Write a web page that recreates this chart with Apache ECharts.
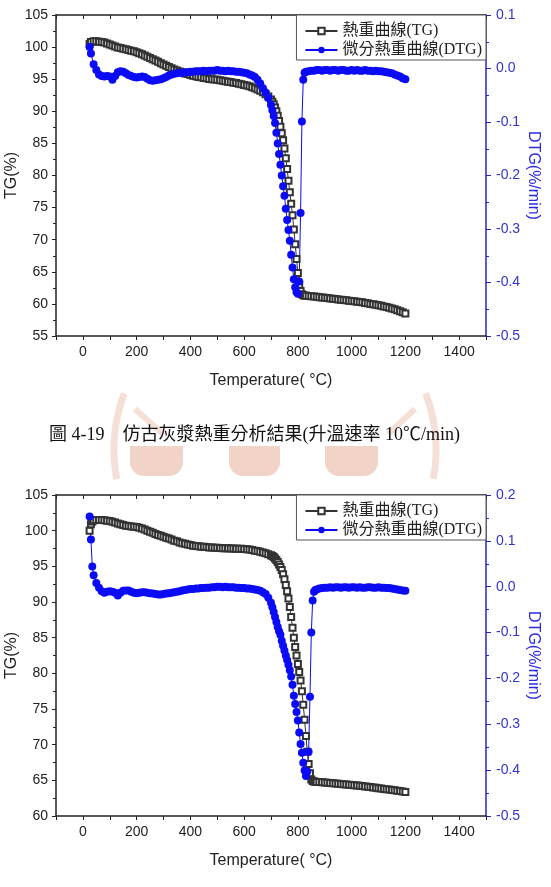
<!DOCTYPE html>
<html lang="zh-Hant">
<head>
    <meta charset="UTF-8">
    <title>TG / DTG</title>
    <script src="https://cdn.jsdelivr.net/npm/echarts@6.0.0/dist/echarts.min.js"></script>
    <style>
        *{
            margin: 0;
            padding: 0;
        }
        html,body{
            width: 100%;
            height: 100%;
            background: #fff;
        }
        .container{
            width: 551px;
            height: 887px;
        }
    </style>
</head>
<body>
<div class="container"></div>
<script>
    // temperature grid, chart 1 (°C)
    let temp1 = [25, 30,
        40, 50, 60, 70, 80, 90, 100,
        110, 120, 130, 140, 150, 160, 170, 180, 190, 200,
        210, 220, 230, 240, 250, 260, 270, 280, 290, 300,
        310, 320, 330, 340, 350, 360, 370, 380, 390, 400,
        410, 420, 430, 440, 450, 460, 470, 480, 490, 500,
        510, 520, 530, 540, 550, 560, 570, 580, 590, 600,
        610, 620, 630, 640, 650, 660, 670, 680, 690, 700,
        705, 710, 715, 720, 725, 730, 735, 740, 745, 750,
        755, 760, 765, 770, 775, 780, 785, 790, 795, 800,
        805, 810, 815, 820, 825, 830,
        840, 850, 860, 870, 880, 890, 900, 910, 920, 930,
        940, 950, 960, 970, 980, 990, 1000, 1010, 1020, 1030,
        1040, 1050, 1060, 1070, 1080, 1090, 1100, 1110, 1120, 1130,
        1140, 1150, 1160, 1170, 1180, 1190, 1200];

    let tg1 = [100.5, 100.8,
        100.9, 100.9, 100.85, 100.8, 100.7, 100.55, 100.4,
        100.25, 100.1, 99.95, 99.85, 99.75, 99.65, 99.55, 99.45, 99.35, 99.2,
        99.05, 98.9, 98.7, 98.5, 98.3, 98.1, 97.9, 97.7, 97.5, 97.3,
        97.1, 96.9, 96.7, 96.5, 96.35, 96.2, 96.05, 95.9, 95.8, 95.65,
        95.55, 95.45, 95.35, 95.3, 95.2, 95.15, 95.05, 95.0, 94.95, 94.9,
        94.85, 94.75, 94.7, 94.6, 94.55, 94.45, 94.4, 94.3, 94.2, 94.1,
        94.0, 93.9, 93.75, 93.6, 93.4, 93.2, 92.95, 92.65, 92.3, 91.85,
        91.5, 91.1, 90.6, 90.0, 89.3, 88.5, 87.6, 86.6, 85.5, 84.2,
        82.7, 81.0, 79.2, 77.4, 75.6, 73.8, 71.6, 69.3, 67.0, 64.8,
        63.0, 62.0, 61.5, 61.35, 61.3, 61.28,
        61.25, 61.2, 61.15, 61.1, 61.05, 61.0, 60.95, 60.9, 60.85, 60.8,
        60.75, 60.7, 60.65, 60.6, 60.55, 60.5, 60.45, 60.4, 60.35, 60.3,
        60.25, 60.15, 60.1, 60.0, 59.95, 59.85, 59.8, 59.7, 59.6, 59.5,
        59.4, 59.3, 59.15, 59.0, 58.85, 58.7, 58.5];

    let dtg1 = [0.040, 0.028,
        0.008, -0.003, -0.011, -0.014, -0.015, -0.014, -0.015,
        -0.021, -0.014, -0.007, -0.005, -0.006, -0.009, -0.012, -0.014, -0.016, -0.017,
        -0.016, -0.015, -0.016, -0.019, -0.022, -0.023, -0.022, -0.021, -0.020, -0.018,
        -0.016, -0.013, -0.011, -0.010, -0.009, -0.008, -0.008, -0.007, -0.007, -0.006,
        -0.006, -0.005, -0.005, -0.005, -0.004, -0.005, -0.004, -0.004, -0.004, -0.003,
        -0.004, -0.004, -0.005, -0.004, -0.005, -0.005, -0.006, -0.006, -0.007, -0.008,
        -0.009, -0.011, -0.013, -0.016, -0.021, -0.028, -0.037, -0.045, -0.055, -0.068,
        -0.078, -0.089, -0.102, -0.120, -0.140, -0.160, -0.180, -0.200, -0.220, -0.238,
        -0.262, -0.283, -0.302, -0.322, -0.348, -0.372, -0.394, -0.409, -0.418, -0.421,
        -0.398, -0.270, -0.099, -0.021, -0.008, -0.006,
        -0.005, -0.004, -0.004, -0.003, -0.003, -0.004, -0.003, -0.003, -0.004, -0.003,
        -0.003, -0.004, -0.003, -0.003, -0.004, -0.004, -0.003, -0.004, -0.003, -0.004,
        -0.004, -0.003, -0.004, -0.004, -0.005, -0.004, -0.005, -0.005, -0.006, -0.007,
        -0.008, -0.009, -0.011, -0.013, -0.015, -0.018, -0.020];

    // temperature grid, chart 2 (°C)
    let temp2 = [25, 30, 35,
        40, 50, 60, 70, 80, 90, 100,
        110, 120, 130, 140, 150, 160, 170, 180, 190, 200,
        210, 220, 230, 240, 250, 260, 270, 280, 290, 300,
        310, 320, 330, 340, 350, 360, 370, 380, 390, 400,
        410, 420, 430, 440, 450, 460, 470, 480, 490, 500,
        510, 520, 530, 540, 550, 560, 570, 580, 590, 600,
        610, 620, 630, 640, 650, 660, 670, 680, 690, 700,
        705, 710, 715, 720, 725, 730, 735, 740, 745, 750,
        755, 760, 765, 770, 775, 780, 785, 790, 795, 800,
        805, 810, 815, 820, 825, 830, 835, 840, 845, 850,
        855, 860, 865, 870,
        880, 890, 900, 910, 920, 930, 940, 950, 960, 970,
        980, 990, 1000, 1010, 1020, 1030, 1040, 1050, 1060, 1070,
        1080, 1090, 1100, 1110, 1120, 1130, 1140, 1150, 1160, 1170,
        1180, 1190, 1200];

    let tg2 = [100.0, 100.9, 101.3,
        101.45, 101.5, 101.5, 101.5, 101.45, 101.4, 101.35,
        101.25, 101.15, 101.0, 100.9, 100.8, 100.7, 100.65, 100.6, 100.55, 100.5,
        100.4, 100.3, 100.15, 100.0, 99.85, 99.7, 99.55, 99.4, 99.3, 99.15,
        99.0, 98.9, 98.75, 98.6, 98.5, 98.35, 98.25, 98.15, 98.05, 98.0,
        97.9, 97.85, 97.8, 97.75, 97.75, 97.7, 97.65, 97.65, 97.6, 97.6,
        97.58, 97.55, 97.55, 97.52, 97.5, 97.5, 97.48, 97.47, 97.45, 97.43,
        97.4, 97.35, 97.3, 97.2, 97.15, 97.05, 96.95, 96.85, 96.7, 96.55,
        96.45, 96.3, 96.1, 95.9, 95.6, 95.25, 94.9, 94.5, 93.9, 93.2,
        92.4, 91.5, 90.5, 89.3, 87.9, 86.4, 85.0, 83.7, 82.5, 81.3,
        80.2, 79.0, 77.5, 75.6, 73.5, 71.2, 69.0, 67.3, 66.0, 65.1,
        64.9, 64.85, 64.8, 64.78,
        64.75, 64.72, 64.7, 64.67, 64.63, 64.6, 64.57, 64.53, 64.5, 64.46,
        64.42, 64.39, 64.35, 64.31, 64.27, 64.23, 64.19, 64.15, 64.1, 64.05,
        64.0, 63.95, 63.9, 63.85, 63.8, 63.75, 63.7, 63.65, 63.6, 63.55,
        63.5, 63.45, 63.35];

    let dtg2 = [0.153, 0.103, 0.044,
        0.025, 0.008, -0.002, -0.010, -0.013, -0.011, -0.010,
        -0.011, -0.013, -0.019, -0.013, -0.009, -0.008, -0.008, -0.011, -0.013, -0.014,
        -0.013, -0.012, -0.012, -0.013, -0.014, -0.015, -0.016, -0.017, -0.017, -0.016,
        -0.015, -0.014, -0.013, -0.012, -0.011, -0.010, -0.008, -0.007, -0.006, -0.005,
        -0.005, -0.004, -0.004, -0.003, -0.003, -0.002, -0.002, -0.001, -0.001, 0.000,
        0.000, -0.001, 0.000, -0.001, -0.001, -0.001, -0.002, -0.002, -0.003, -0.003,
        -0.004, -0.004, -0.005, -0.006, -0.007, -0.009, -0.012, -0.016, -0.024, -0.035,
        -0.045, -0.055, -0.066, -0.077, -0.088, -0.097, -0.105, -0.118, -0.129, -0.139,
        -0.150, -0.160, -0.170, -0.182, -0.196, -0.214, -0.238, -0.256, -0.273, -0.292,
        -0.318, -0.343, -0.362, -0.384, -0.401, -0.413, -0.403, -0.360, -0.240, -0.100,
        -0.030, -0.011, -0.007, -0.006,
        -0.004, -0.003, -0.002, -0.002, -0.001, -0.002, -0.001, -0.001, -0.002, -0.001,
        -0.001, -0.002, -0.001, -0.001, -0.002, -0.001, -0.002, -0.002, -0.001, -0.001,
        -0.002, -0.002, -0.001, -0.002, -0.002, -0.003, -0.003, -0.004, -0.005, -0.006,
        -0.007, -0.008, -0.009];

    let tempTicks = [0, 200, 400, 600, 800, 1000, 1200, 1400];
    let names = ['熱重曲線(TG)', '微分熱重曲線(DTG)'];
    let caption = '圖 4-19　仿古灰漿熱重分析結果(升溫速率 10℃/min)';

    const BLACK = '#222';
    const BLUE = '#0b0bf5';
    const AXBLUE = '#2626c8';
    const SANS = "'Liberation Sans', Arial, sans-serif";
    const SERIF = "'Liberation Serif', 'Noto Sans CJK TC', serif";

    let zip = (xs, ys) => xs.map((x, i) => [x, ys[i]]);

    let container = document.querySelector('.container');
    let chart = echarts.init(container);

    // fixed plot boxes, labels may sit outside them
    let grids = [
        {left: 56, top: 15, width: 430, height: 321, outerBoundsMode: 'none', containLabel: false},
        {left: 56, top: 495, width: 430, height: 321, outerBoundsMode: 'none', containLabel: false}
    ];

    function bottomAxis(gi) {
        return {
            type: 'value', gridIndex: gi, position: 'bottom',
            min: -100, max: 1500, interval: 100,
            splitLine: {show: false},
            axisLine: {onZero: false, lineStyle: {color: BLACK, width: 1.5}},
            axisTick: {length: 4, lineStyle: {color: BLACK}},
            axisLabel: {
                customValues: tempTicks, margin: 9, fontSize: 14, color: BLACK, fontFamily: SANS,
                formatter: v => String(v)
            },
            name: 'Temperature( °C)', nameLocation: 'middle', nameGap: 37,
            nameTextStyle: {fontSize: 16, color: BLACK, fontFamily: SANS}
        };
    }

    function topAxis(gi) {
        return {
            type: 'value', gridIndex: gi, position: 'top',
            min: -100, max: 1500, interval: 100,
            splitLine: {show: false},
            axisLine: {onZero: false, lineStyle: {color: BLACK, width: 1.5}},
            axisTick: {inside: true, length: 4, lineStyle: {color: BLACK}},
            axisLabel: {show: false}
        };
    }

    function leftAxis(gi, min) {
        return {
            type: 'value', gridIndex: gi, position: 'left',
            min: min, max: 105, interval: 5,
            splitLine: {show: false},
            axisLine: {show: true, onZero: false, lineStyle: {color: BLACK, width: 1.5}},
            axisTick: {show: true, length: 4, lineStyle: {color: BLACK}},
            minorTick: {show: true, splitNumber: 2, length: 3, lineStyle: {color: BLACK}},
            axisLabel: {margin: 8, fontSize: 14, color: BLACK, fontFamily: SANS},
            name: 'TG(%)', nameLocation: 'middle', nameGap: 36, nameMoveOverlap: false,
            nameTextStyle: {fontSize: 16, color: BLACK, fontFamily: SANS}
        };
    }

    function rightAxis(gi, max) {
        return {
            type: 'value', gridIndex: gi, position: 'right',
            min: -0.5, max: max, interval: 0.1,
            splitLine: {show: false},
            axisLine: {show: true, onZero: false, lineStyle: {color: AXBLUE, width: 1.5}},
            axisTick: {show: true, length: 5, lineStyle: {color: AXBLUE}},
            minorTick: {show: true, splitNumber: 2, length: 3, lineStyle: {color: AXBLUE}},
            axisLabel: {
                margin: 10, fontSize: 14, color: '#3333cc', fontFamily: SANS,
                formatter: v => Math.abs(v) < 1e-9 ? '0.0' : v.toFixed(1)
            },
            name: 'DTG(%/min)', nameLocation: 'middle', nameGap: 39, nameRotate: -90,
            nameMoveOverlap: false,
            nameTextStyle: {fontSize: 16, color: '#2a2ae0', fontFamily: SANS}
        };
    }

    function legendAt(top) {
        return {
            orient: 'vertical', right: 65, top: top,
            data: names,
            padding: [8, 4, 2, 8], itemGap: 3,
            itemWidth: 32, itemHeight: 8,
            borderColor: '#555', borderWidth: 1, borderRadius: 0,
            backgroundColor: '#fff',
            selectedMode: false,
            textStyle: {fontSize: 16, color: BLACK, fontFamily: SERIF}
        };
    }

    function tgSeries(xi, yi, data) {
        return {
            name: names[0], type: 'line', xAxisIndex: xi, yAxisIndex: yi,
            data: data, symbol: 'emptyRect', symbolSize: 6, showSymbol: true,
            color: '#333', lineStyle: {color: '#333', width: 1},
            itemStyle: {borderWidth: 1}
        };
    }

    function dtgSeries(xi, yi, data) {
        return {
            name: names[1], type: 'line', xAxisIndex: xi, yAxisIndex: yi,
            data: data, symbol: 'circle', symbolSize: 8, showSymbol: true,
            color: BLUE, lineStyle: {color: BLUE, width: 1}
        };
    }

    // faint watermark seal behind the caption
    const MARK = '#f5e0d8';
    const MARK2 = '#f1d3c8';
    let watermark = [
        {type: 'arc', shape: {cx: 275, cy: 450, r: 161, startAngle: 2.96, endAngle: 3.50},
            style: {stroke: MARK, lineWidth: 7, fill: null}, z: -10},
        {type: 'arc', shape: {cx: 275, cy: 450, r: 161, startAngle: -0.36, endAngle: 0.18},
            style: {stroke: MARK, lineWidth: 7, fill: null}, z: -10},
        {type: 'line', shape: {x1: 135, y1: 409, x2: 163, y2: 434},
            style: {stroke: MARK, lineWidth: 6}, z: -10},
        {type: 'line', shape: {x1: 415, y1: 409, x2: 388, y2: 434},
            style: {stroke: MARK, lineWidth: 6}, z: -10},
        {type: 'rect', shape: {x: 130, y: 446, width: 53, height: 30, r: [0, 0, 14, 14]},
            style: {fill: MARK2}, z: -10},
        {type: 'rect', shape: {x: 229, y: 446, width: 51, height: 30, r: [0, 0, 14, 14]},
            style: {fill: MARK2}, z: -10},
        {type: 'rect', shape: {x: 325, y: 446, width: 53, height: 30, r: [0, 0, 14, 14]},
            style: {fill: MARK2}, z: -10},
        {type: 'text', left: 49, top: 426, z: 10,
            style: {text: caption, fontSize: 18, fill: '#111', fontFamily: SERIF}}
    ];

    let option = {
        backgroundColor: '#fff',
        animation: false,
        grid: grids,
        xAxis: [bottomAxis(0), topAxis(0), bottomAxis(1), topAxis(1)],
        yAxis: [leftAxis(0, 55), rightAxis(0, 0.1), leftAxis(1, 60), rightAxis(1, 0.2)],
        legend: [legendAt(15), legendAt(495)],
        graphic: {elements: watermark},
        series: [
            tgSeries(0, 0, zip(temp1, tg1)),
            dtgSeries(0, 1, zip(temp1, dtg1)),
            tgSeries(2, 2, zip(temp2, tg2)),
            dtgSeries(2, 3, zip(temp2, dtg2))
        ]
    };
    chart.setOption(option);
</script>
</body>
</html>
